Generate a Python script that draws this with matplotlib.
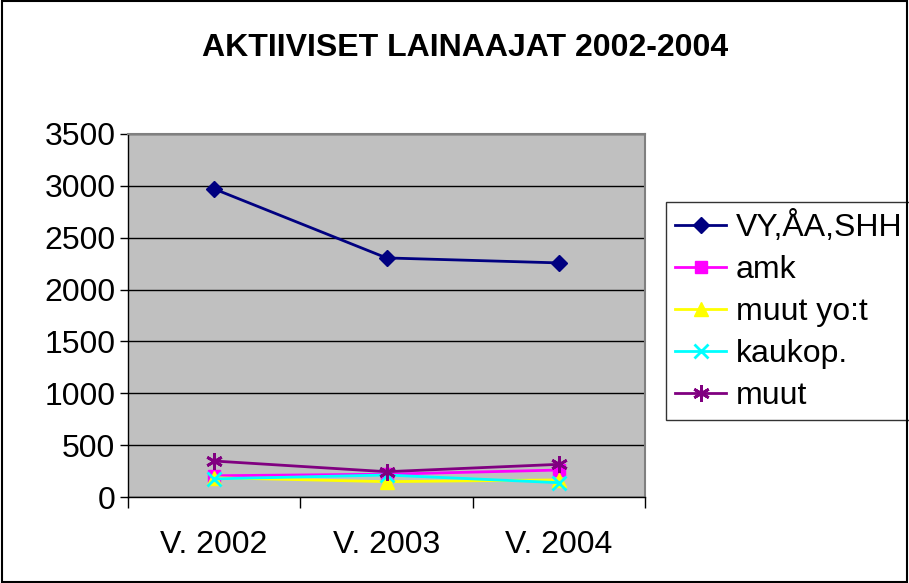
import matplotlib
matplotlib.use("Agg")
import matplotlib.pyplot as plt
from matplotlib.patches import Rectangle

plt.rcParams['font.family'] = ['Liberation Sans', 'DejaVu Sans']

categories = ["V. 2002", "V. 2003", "V. 2004"]
vy_aa_shh = [2970, 2305, 2257]
amk = [205, 220, 260]
muut_yot = [186, 148, 165]
kaukop = [175, 212, 138]
muut = [347, 244, 315]

series = [
    ("VY,ÅA,SHH", vy_aa_shh, "#000080", "D", 8),
    ("amk", amk, "#FF00FF", "s", 8),
    ("muut yo:t", muut_yot, "#FFFF00", "^", 10),
    ("kaukop.", kaukop, "#00FFFF", "x", 10),
    ("muut", muut, "#800080", (6, 2, 0), 12),
]

fig = plt.figure(figsize=(9.09, 5.83), dpi=100)
fig.patches.append(Rectangle((0.002, 0.002), 0.996, 0.996, transform=fig.transFigure,
                             fill=False, edgecolor="black", linewidth=1.5))

ax = fig.add_axes([0.1408, 0.1475, 0.7096 - 0.1408, 0.7702 - 0.1475])
ax.set_facecolor("#C0C0C0")

x = list(range(len(categories)))
for name, vals, color, marker, ms in series:
    ax.plot(x, vals, color=color, linewidth=2, marker=marker, markersize=ms,
            markeredgewidth=2 if marker in ("x",) or isinstance(marker, tuple) else 1,
            markeredgecolor=color, markerfacecolor=color, label=name)

ax.set_xlim(-0.5, 2.5)
ax.set_ylim(0, 3500)
ax.set_yticks(range(0, 3501, 500))
ax.yaxis.grid(True, color="black", linewidth=1)
ax.set_axisbelow(True)
ax.set_xticks(x)
ax.set_xticklabels(categories)
ax.set_xticks([-0.5, 0.5, 1.5, 2.5], minor=True)
ax.tick_params(axis="x", which="major", length=0, pad=24, labelsize=23)
ax.tick_params(axis="x", which="minor", length=8, direction="out", width=1)
ax.tick_params(axis="y", length=6, width=1, direction="out", labelsize=23, pad=3)

for side in ("left", "bottom"):
    ax.spines[side].set_color("black")
    ax.spines[side].set_linewidth(1)
for side in ("top", "right"):
    ax.spines[side].set_color("#808080")
    ax.spines[side].set_linewidth(1.5)

fig.text(0.512, 0.918, "AKTIIVISET LAINAAJAT 2002-2004", ha="center", va="center",
         fontsize=23, fontweight="bold")

leg = ax.legend(loc="upper left", bbox_to_anchor=(666 / 909, 1 - 202 / 583), bbox_transform=fig.transFigure,
                fontsize=23, frameon=True, fancybox=False, edgecolor="black",
                borderpad=0.28, labelspacing=0.38, handlelength=1.6, handletextpad=0.3,
                borderaxespad=0)
leg.get_frame().set_linewidth(1)

fig.savefig("out.png", dpi=100)
